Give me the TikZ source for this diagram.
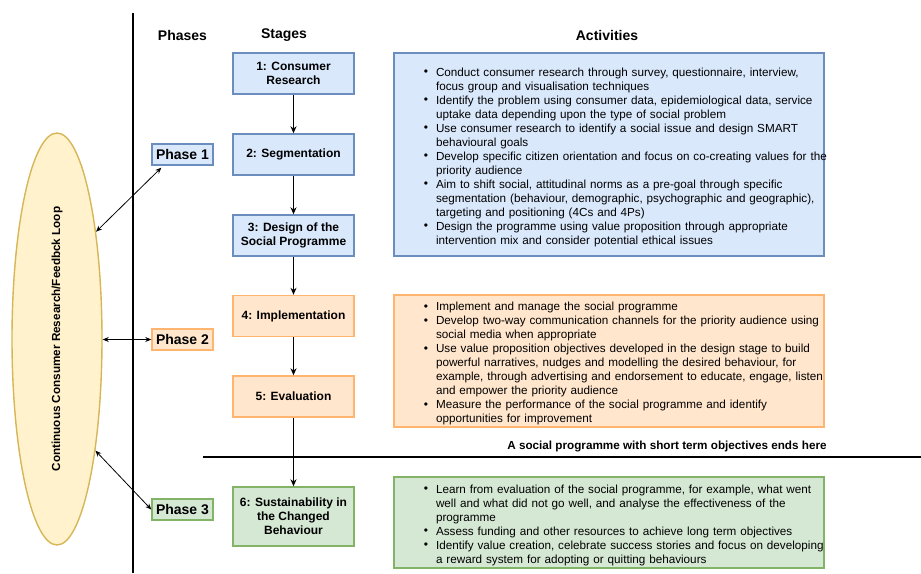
\documentclass[tikz,border=0pt]{standalone}
\usepackage{fontspec}
\setmainfont{Liberation Sans}
\usepackage{xcolor}
\usepackage{enumitem}
\usetikzlibrary{positioning, arrows.meta, shapes.geometric, calc}

\definecolor{blueFill}{HTML}{DAE8FC}
\definecolor{blueEdge}{HTML}{6C8EBF}
\definecolor{orangeFill}{HTML}{FFE6CC}
\definecolor{orangeEdge}{HTML}{FFB570}
\definecolor{greenFill}{HTML}{D5E8D4}
\definecolor{greenEdge}{HTML}{82B366}
\definecolor{loopFill}{HTML}{FFF2CC}
\definecolor{loopEdge}{HTML}{D6B656}

\newcommand{\actlist}[1]{%
  \begin{itemize}[nosep, leftmargin=42pt, rightmargin=-30pt, labelsep=8pt,
    label={\raisebox{0.5pt}{\fontsize{12}{12}\selectfont\textbullet}}]
  #1
  \end{itemize}}

\begin{document}
\begin{tikzpicture}[
    x=1pt, y=-1pt,
    stage box/.style={draw, line width=1.4pt, minimum width=121pt, minimum height=41pt,
        inner sep=2pt, align=center, font=\bfseries\fontsize{12}{14}\selectfont},
    phase box/.style={draw, line width=1.4pt, minimum width=61pt, minimum height=21pt,
        inner sep=1pt, font=\bfseries\fontsize{14}{16}\selectfont},
    act box/.style={draw, line width=1.4pt, text width=430pt, inner sep=0pt,
        align=left, font=\fontsize{11.7}{14}\selectfont},
    head label/.style={font=\bfseries\fontsize{14}{16}\selectfont},
    flow/.style={-{Stealth[length=7pt, width=6pt]}, line width=1.2pt},
    loop link/.style={{Stealth[length=6pt, width=5pt]}-{Stealth[length=6pt, width=5pt]}, line width=0.8pt}
]

\useasboundingbox (0,0) rectangle (921,573);

% --- 1. Dividers and headers ---
\coordinate (divT) at (133,13);
\coordinate (divB) at (133,573);
\coordinate (cutL) at (203,457);
\coordinate (cutR) at (921,457);
\draw[line width=1.6pt] (divT) -- (divB);
\draw[line width=1.6pt] (cutL) -- (cutR);

\node[head label] (phasesHead) at (182.5,35) {Phases};
\node[head label] (stagesHead) at (284,35) {Stages};
\node[head label] (actHead) at (607,35) {Activities};

\node[font=\bfseries\fontsize{11.7}{14}\selectfont] (cutNote) at (667,446)
    {A social programme with short term objectives ends here};

% --- 2. Feedback loop ---
\node[ellipse, draw=loopEdge, fill=loopFill, line width=1.4pt,
      minimum width=90pt, minimum height=412pt, inner sep=0pt] (loop) at (57,339) {};
\node[rotate=90, font=\bfseries\fontsize{11.7}{14}\selectfont] (loopText) at (loop.center)
    {Continuous Consumer Research/Feedbck Loop};

% --- 3. Stages ---
\node[stage box, fill=blueFill, draw=blueEdge] (s1) at (293.5,73.5) {1: Consumer\\Research};
\node[stage box, fill=blueFill, draw=blueEdge] (s2) at (293.5,154.5) {2: Segmentation};
\node[stage box, fill=blueFill, draw=blueEdge] (s3) at (293.5,235.5) {3: Design of the\\Social Programme};
\node[stage box, fill=orangeFill, draw=orangeEdge] (s4) at (293.5,316) {4: Implementation};
\node[stage box, fill=orangeFill, draw=orangeEdge] (s5) at (293.5,396.5) {5: Evaluation};
\node[stage box, fill=greenFill, draw=greenEdge, minimum height=59pt] (s6) at (293.5,516.5)
    {6: Sustainability in\\the Changed\\Behaviour};

\foreach \a/\b in {s1/s2, s2/s3, s3/s4, s4/s5, s5/s6}
    \draw[flow] (\a) -- (\b);

% --- 4. Phases ---
\node[phase box, fill=blueFill, draw=blueEdge] (phase1) at (182.5,154.5) {Phase 1};
\node[phase box, fill=orangeFill, draw=orangeEdge] (phase2) at (182.5,339.5) {Phase 2};
\node[phase box, fill=greenFill, draw=greenEdge] (phase3) at (182.5,509.5) {Phase 3};

\draw[loop link] (loop.70) -- ([xshift=10pt, yshift=-2pt]phase1.south west);
\draw[loop link] (loop.east |- phase2.west) -- (phase2.west);
\draw[loop link] (loop.-71) -- (phase3.west);

% --- 5. Activities ---
\node[act box, fill=blueFill, draw=blueEdge, minimum height=203pt] (actA) at (609,154.5) {\actlist{
    \item Conduct consumer research through survey, questionnaire, interview,\\ focus group and visualisation techniques
    \item Identify the problem using consumer data, epidemiological data, service\\ uptake data depending upon the type of social problem
    \item Use consumer research to identify a social issue and design SMART\\ behavioural goals
    \item Develop specific citizen orientation and focus on co-creating values for the\\ priority audience
    \item Aim to shift social, attitudinal norms as a pre-goal through specific\\ segmentation (behaviour, demographic, psychographic and geographic),\\ targeting and positioning (4Cs and 4Ps)
    \item Design the programme using value proposition through appropriate\\ intervention mix and consider potential ethical issues}};

\node[act box, fill=orangeFill, draw=orangeEdge, minimum height=132pt] (actB) at (609,361) {\actlist{
    \item Implement and manage the social programme
    \item Develop two-way communication channels for the priority audience using\\ social media when appropriate
    \item Use value proposition objectives developed in the design stage to build\\ powerful narratives, nudges and modelling the desired behaviour, for\\ example, through advertising and endorsement to educate, engage, listen\\ and empower the priority audience
    \item Measure the performance of the social programme and identify\\ opportunities for improvement}};

\node[act box, fill=greenFill, draw=greenEdge, minimum height=91pt] (actC) at (609,522.5) {\actlist{
    \item Learn from evaluation of the social programme, for example, what went\\ well and what did not go well, and analyse the effectiveness of the\\ programme
    \item Assess funding and other resources to achieve long term objectives
    \item Identify value creation, celebrate success stories and focus on developing\\ a reward system for adopting or quitting behaviours}};

\end{tikzpicture}
\end{document}
